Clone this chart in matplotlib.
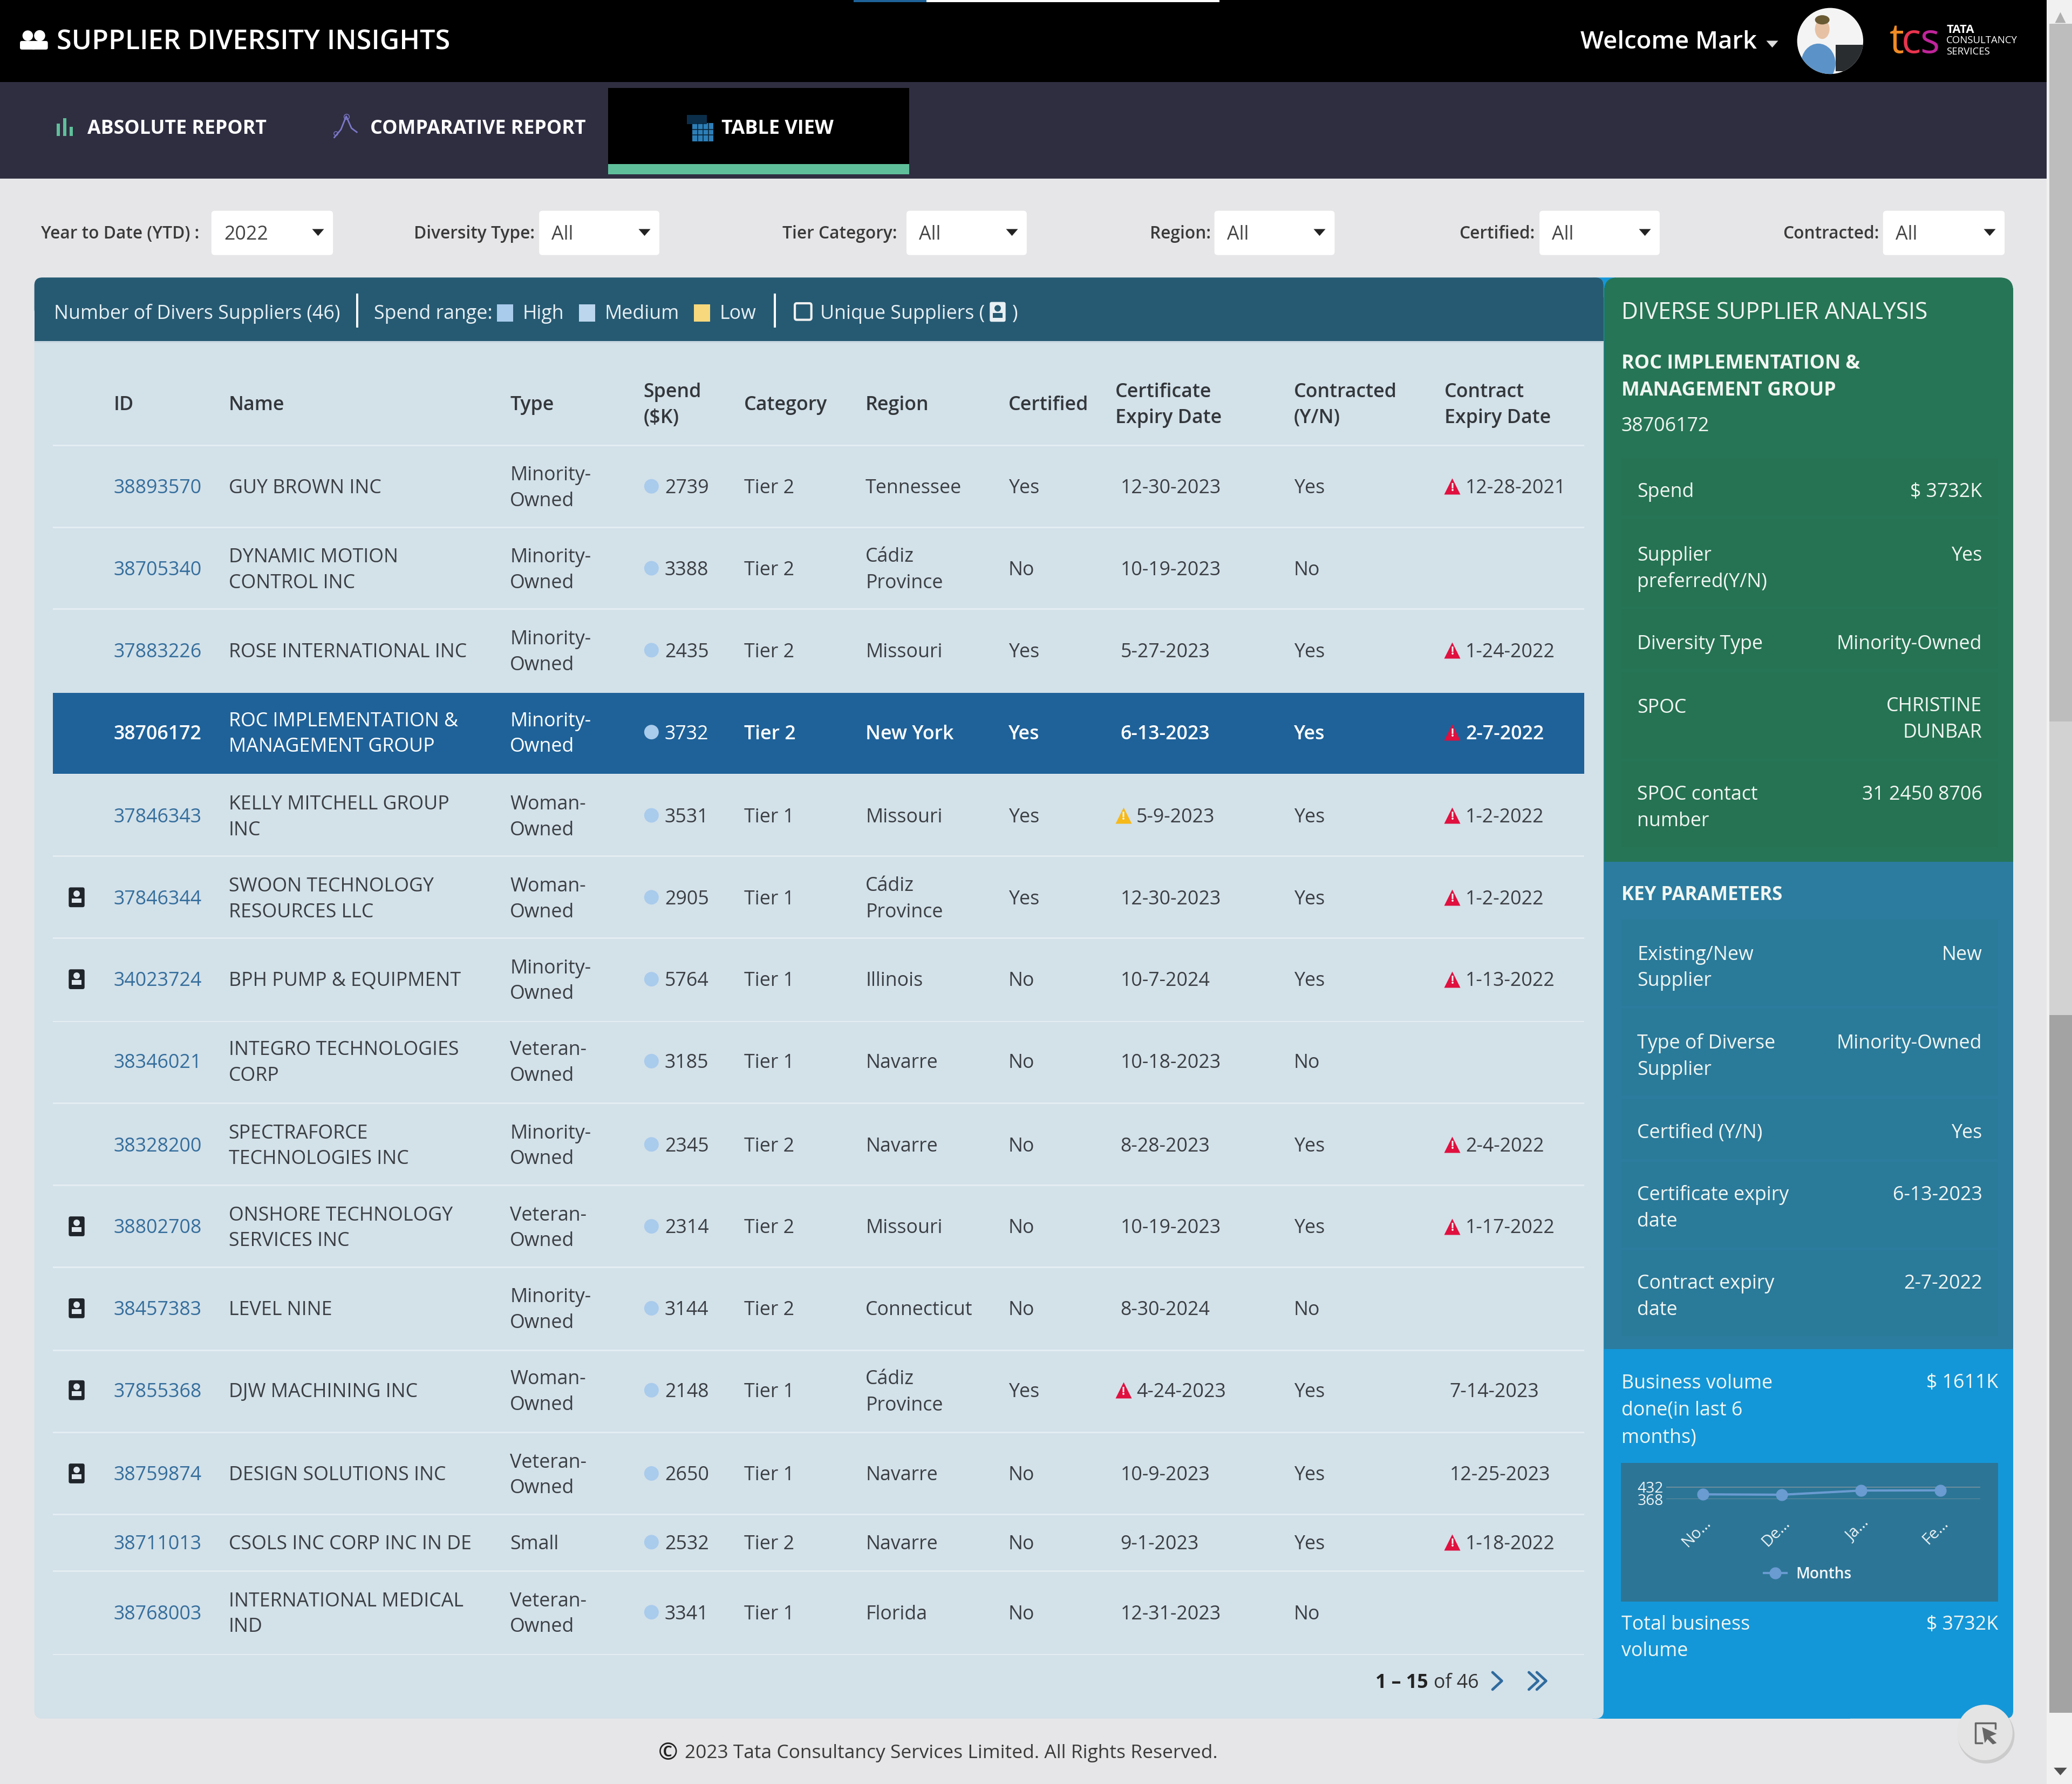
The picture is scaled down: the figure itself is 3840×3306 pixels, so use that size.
import matplotlib
matplotlib.use('Agg')
import matplotlib.pyplot as plt
from matplotlib.patches import Rectangle, FancyBboxPatch, Circle, Polygon, Ellipse

plt.rcParams['font.family'] = ['Open Sans', 'DejaVu Sans']

# table data
ids = ['38893570', '38705340', '37883226', '38706172', '37846343', '37846344', '34023724', '38346021',
       '38328200', '38802708', '38457383', '37855368', '38759874', '38711013', '38768003']
names = ['GUY BROWN INC', 'DYNAMIC MOTION\nCONTROL INC', 'ROSE INTERNATIONAL INC',
         'ROC IMPLEMENTATION &\nMANAGEMENT GROUP', 'KELLY MITCHELL GROUP\nINC', 'SWOON TECHNOLOGY\nRESOURCES LLC',
         'BPH PUMP & EQUIPMENT', 'INTEGRO TECHNOLOGIES\nCORP', 'SPECTRAFORCE\nTECHNOLOGIES INC',
         'ONSHORE TECHNOLOGY\nSERVICES INC', 'LEVEL NINE', 'DJW MACHINING INC', 'DESIGN SOLUTIONS INC',
         'CSOLS INC CORP INC IN DE', 'INTERNATIONAL MEDICAL\nIND']
types = ['Minority-\nOwned', 'Minority-\nOwned', 'Minority-\nOwned', 'Minority-\nOwned', 'Woman-\nOwned',
         'Woman-\nOwned', 'Minority-\nOwned', 'Veteran-\nOwned', 'Minority-\nOwned', 'Veteran-\nOwned',
         'Minority-\nOwned', 'Woman-\nOwned', 'Veteran-\nOwned', 'Small', 'Veteran-\nOwned']
spend = [2739, 3388, 2435, 3732, 3531, 2905, 5764, 3185, 2345, 2314, 3144, 2148, 2650, 2532, 3341]
tiers = ['Tier 2', 'Tier 2', 'Tier 2', 'Tier 2', 'Tier 1', 'Tier 1', 'Tier 1', 'Tier 1',
         'Tier 2', 'Tier 2', 'Tier 2', 'Tier 1', 'Tier 1', 'Tier 2', 'Tier 1']
regions = ['Tennessee', 'Cádiz\nProvince', 'Missouri', 'New York', 'Missouri', 'Cádiz\nProvince', 'Illinois',
           'Navarre', 'Navarre', 'Missouri', 'Connecticut', 'Cádiz\nProvince', 'Navarre', 'Navarre', 'Florida']
certified = ['Yes', 'No', 'Yes', 'Yes', 'Yes', 'Yes', 'No', 'No', 'No', 'No', 'No', 'Yes', 'No', 'No', 'No']
cert_expiry = ['12-30-2023', '10-19-2023', '5-27-2023', '6-13-2023', '5-9-2023', '12-30-2023', '10-7-2024',
               '10-18-2023', '8-28-2023', '10-19-2023', '8-30-2024', '4-24-2023', '10-9-2023', '9-1-2023',
               '12-31-2023']
cert_flag = ['', '', '', '', 'amber', '', '', '', '', '', '', 'red', '', '', '']
contracted = ['Yes', 'No', 'Yes', 'Yes', 'Yes', 'Yes', 'Yes', 'No', 'Yes', 'Yes', 'No', 'Yes', 'Yes', 'Yes', 'No']
contract_expiry = ['12-28-2021', '', '1-24-2022', '2-7-2022', '1-2-2022', '1-2-2022', '1-13-2022', '',
                   '2-4-2022', '1-17-2022', '', '7-14-2023', '12-25-2023', '1-18-2022', '']
contract_flag = [1, 0, 1, 1, 1, 1, 1, 0, 1, 1, 0, 0, 0, 1, 0]
unique = [0, 0, 0, 0, 0, 1, 1, 0, 0, 1, 1, 1, 1, 0, 0]
selected = 3

filter_labels = ['Year to Date (YTD) :', 'Diversity Type:', 'Tier Category:', 'Region:', 'Certified:', 'Contracted:']
filter_values = ['2022', 'All', 'All', 'All', 'All', 'All']

# small chart
months = ['No…', 'De…', 'Ja…', 'Fe…']
month_values = [393, 391, 413, 414]

W, H = 1568, 1350  # layout units, the image scaled to a 1568 wide page
SCALE = 3840 / W
CARET = [(-1, 0.55), (1, 0.55), (0, -0.6)]


def fs(px):
    return px * SCALE * 0.72


fig = plt.figure(figsize=(38.4, 33.06), dpi=100, facecolor='#e6e6e8')
ax = fig.add_axes([0, 0, 1, 1])
ax.set_xlim(0, W)
ax.set_ylim(H, 0)
ax.axis('off')

DARK = '#3b3f44'


def rect(x0, y0, x1, y1, color, z=1, **kw):
    ax.add_patch(Rectangle((x0, y0), x1 - x0, y1 - y0, fc=color, ec='none', zorder=z, **kw))


def rrect(x0, y0, x1, y1, color, r=4, z=1, **kw):
    ax.add_patch(FancyBboxPatch((x0 + r, y0 + r), x1 - x0 - 2 * r, y1 - y0 - 2 * r,
                                boxstyle=f'round,pad={r},rounding_size={r}', fc=color, ec='none', zorder=z, **kw))


def txt(x, y, s, px=14.6, color=DARK, weight='normal', ha='left', pitch=20, z=5):
    # y is the centre of the line, multi line text is centred on it
    lines = s.split('\n')
    start = y - pitch * (len(lines) - 1) / 2
    for i, line in enumerate(lines):
        ax.text(x, start + i * pitch + px * 0.36, line, fontsize=fs(px), color=color, weight=weight,
                ha=ha, va='baseline', zorder=z)


def person(cx, cy, size, color, z=6):
    ax.add_patch(Circle((cx, cy - size * 0.3), size * 0.27, fc=color, ec='none', zorder=z))
    ax.add_patch(Rectangle((cx - size * 0.42, cy + size * 0.08), size * 0.84, size * 0.4, fc=color, ec='none', zorder=z))


def unique_icon(cx, cy, bg='#20252b', fg='#dde6ec'):
    rrect(cx - 6, cy - 7.5, cx + 6, cy + 7.5, bg, r=1.5, z=5)
    person(cx, cy, 9, fg)


def warn(cx, cy, color):
    ax.plot([cx], [cy], marker='^', ms=fs(12.5), color=color, mec='none', zorder=5)
    ax.text(cx, cy + 1.2, '!', fontsize=fs(8.5), color='#f4f4f4', weight='bold', ha='center', va='center', zorder=6)


# scrollbar
rect(1549, 0, W, H, '#f1f1f1', z=0)
rect(1551, 18, W, 546, '#bdbdbd')
rect(1551, 546, W, 768, '#d2d2d2')
rect(1551, 768, W, 1296, '#a3a3a3')
ax.plot([1559], [13], marker='^', ms=fs(8), color='#b0b0b0', mec='none')
ax.plot([1559], [1340], marker=CARET, ms=fs(10), color='#505050', mec='none')

# top bars
rect(0, 0, 1549, 62, '#000000')
rect(0, 62, 1549, 135, '#2f2e41')
rect(646, 0, 701, 1.5, '#1f6299', z=2)
rect(701, 0, 923, 1.5, '#ffffff', z=2)

# people icon and title
for cx, size in [(21, 9.5), (30, 10)]:
    ax.add_patch(Circle((cx, 27), size * 0.42, fc='white', ec='none', zorder=3))
    rrect(cx - size * 0.62, 31, cx + size * 0.62, 37.5, 'white', r=1.5, z=3)
txt(43, 30, 'SUPPLIER DIVERSITY INSIGHTS', px=20.5, color='white', weight='semibold')

txt(1196, 30, 'Welcome Mark', px=18.6, color='white', weight='semibold')
ax.plot([1341], [33], marker=CARET, ms=fs(9), color='#dddddd', mec='none', zorder=4)

# avatar
badge = Circle((1385, 31), 25, fc='#f4f4f4', ec='none', zorder=3)
ax.add_patch(badge)
for part in [Ellipse((1376, 48), 26, 30, fc='#5b93c8', ec='none', zorder=4),
             Ellipse((1379, 22), 11, 15, fc='#e7c1a4', ec='none', zorder=4),
             Ellipse((1379, 15), 11, 7, fc='#6a5a34', ec='none', zorder=4),
             Rectangle((1389, 34), 21, 20, fc='#2a2d30', ec='none', zorder=4)]:
    ax.add_patch(part)
    part.set_clip_path(badge)

# tcs logo
for x, s, c in [(1430, 't', '#f08a24'), (1439, 'c', '#e8344e'), (1453, 's', '#c0249a')]:
    txt(x, 29, s, px=31, color=c)
txt(1473, 21.5, 'TATA', px=9, color='white', weight='bold')
txt(1473, 29.8, 'CONSULTANCY', px=7.6, color='white')
txt(1473, 38.5, 'SERVICES', px=7.6, color='white')

# nav
for i, h in enumerate([9.5, 13.5, 7]):
    rect(43 + i * 4.8, 103 - h, 45.5 + i * 4.8, 103, '#5fbf9a', z=3)
ax.plot([253, 258, 262, 266, 270], [104, 98, 88, 97, 100], color='#7c78c9', lw=2, zorder=3)
ax.plot([262], [88], marker='o', ms=fs(4), mfc='none', mec='#7c78c9', zorder=3)
ax.plot([254], [101], marker='o', ms=fs(3), mfc='none', mec='#7c78c9', zorder=3)
txt(66, 96, 'ABSOLUTE REPORT', px=14.55, color='white', weight='bold')
txt(280, 96, 'COMPARATIVE REPORT', px=14.6, color='white', weight='bold')

rect(460, 66.5, 688, 124, '#000000', z=2)
rect(460, 124, 688, 132, '#5fbf9a', z=2)
rect(524, 93, 540, 107, '#2d7fb8', z=3)
rect(520, 87, 535, 94, '#0b2f4a', z=3)
for gx in [528, 532, 536]:
    ax.plot([gx, gx], [93, 107], color='#0a2438', lw=1.2, zorder=4)
for gy in [98, 102]:
    ax.plot([524, 540], [gy, gy], color='#0a2438', lw=1.2, zorder=4)
txt(546, 96, 'TABLE VIEW', px=14.7, color='white', weight='bold')

# filters
label_x = [31, 313, 592, 870, 1104, 1349]
box_x = [(160, 252), (408, 499), (686, 777), (919, 1010), (1165, 1256), (1425, 1517)]
for lab, val, lx, (b0, b1) in zip(filter_labels, filter_values, label_x, box_x):
    txt(lx, 176, lab, px=12.9, color='#3a3a3a', weight='semibold')
    rrect(b0, 159.5, b1, 193, 'white', r=2.5, z=2)
    txt(b0 + 9.5, 176, val, px=14.6, color='#444444')
    ax.plot([b1 - 11.5], [175.5], marker=CARET, ms=fs(9), color='#222222', mec='none', zorder=4)

# panels, the blue one sits behind the corners of the table
rrect(1204, 210, 1224, 1300.5, '#1497d8', r=2, z=1)
rrect(26, 210, 1213.5, 1300.5, '#d3e1e9', r=6, z=2)
rrect(26, 210, 1213.5, 240, '#265a73', r=6, z=3)
rect(26, 225, 1213.5, 258, '#265a73', z=3)
rect(26, 258, 1213.5, 259.5, '#c6d6df', z=3)

rrect(1214, 210, 1523.5, 300, '#267556', r=10, z=2)
rect(1214, 218, 1523.5, 652, '#267556', z=2)
rect(1214, 652, 1523.5, 1021, '#2b7c9e', z=2)
rect(1214, 1021, 1523.5, 1290, '#1497d8', z=2)
rrect(1300, 1270, 1523.5, 1300.5, '#1497d8', r=6, z=2)
rect(1214, 1270, 1400, 1300.5, '#1497d8', z=2)

# table head strip
txt(41, 236, 'Number of Divers Suppliers (46)', px=14.6, color='#e8f0f4')
rect(269.5, 222, 271, 248, '#ffffff', z=4)
txt(283, 236, 'Spend range:', px=14.6, color='#e8f0f4')
for x, c, lab in [(376, '#a9cbec', 'High'), (438, '#bcd6ee', 'Medium'), (525, '#f7d87c', 'Low')]:
    rect(x, 230.5, x + 12.5, 243.5, c, z=4)
    txt(x + 19.5, 236, lab, px=14.6, color='#e8f0f4')
rect(585.5, 222, 587, 248, '#ffffff', z=4)
ax.add_patch(FancyBboxPatch((601.5, 229.5), 12.5, 12.5, boxstyle='round,pad=0,rounding_size=1.5',
                            fc='none', ec='#f0f0f0', lw=3, zorder=4))
txt(620.5, 236, 'Unique Suppliers (', px=14.6, color='#e8f0f4')
unique_icon(755, 236, bg='#e8f0f4', fg='#265a73')
txt(766, 236, ')', px=14.6, color='#e8f0f4')

# column headers
col_heads = [(86, 'ID'), (173, 'Name'), (386, 'Type'), (487, 'Spend\n($K)'), (563, 'Category'), (655, 'Region'),
             (763, 'Certified'), (844, 'Certificate\nExpiry Date'), (979, 'Contracted\n(Y/N)'),
             (1093, 'Contract\nExpiry Date')]
for x, s in col_heads:
    txt(x, 305, s, px=14.6, color='#33373b', weight='semibold', pitch=19.5)

# rows
row_y = [368, 430, 492, 554, 617, 679, 741, 803, 866, 928, 990, 1052, 1115, 1167, 1220]
row_lines = [337, 399, 461, 585.5, 648, 710, 773, 835, 897, 959, 1022, 1084, 1146, 1189, 1252]
for yl in row_lines:
    rect(40, yl - 0.6, 1199, yl + 0.6, '#e4edf2', z=3)
rect(40, 524.5, 1199, 585.5, '#1f6299', z=3)

for i, y in enumerate(row_y):
    sel = i == selected
    c = 'white' if sel else DARK
    w = 'semibold' if sel else 'normal'
    if unique[i]:
        unique_icon(58, y)
    txt(86, y, ids[i], color='white' if sel else '#356e9c', weight=w)
    txt(173, y, names[i], color=c, pitch=19.5)
    txt(386, y, types[i], color=c, pitch=19.5)
    ax.scatter([493], [y], s=fs(11) ** 2, color='#a9cbec', edgecolors='none', zorder=5)
    txt(503, y, str(spend[i]), color=c)
    txt(563, y, tiers[i], color=c, weight=w)
    txt(655, y, regions[i], color=c, weight=w, pitch=20)
    txt(763, y, certified[i], color=c, weight=w)
    if cert_flag[i]:
        warn(850, y, '#f6b91a' if cert_flag[i] == 'amber' else '#e0103f')
        txt(860, y, cert_expiry[i], color=c, weight=w)
    else:
        txt(848, y, cert_expiry[i], color=c, weight=w)
    txt(979, y, contracted[i], color=c, weight=w)
    if contract_flag[i]:
        warn(1099, y, '#e0103f')
        txt(1109, y, contract_expiry[i], color=c, weight=w)
    elif contract_expiry[i]:
        txt(1097, y, contract_expiry[i], color=c, weight=w)

# pager
txt(1041, 1272, '1 – 15', color='#222222', weight='bold')
txt(1085, 1272, 'of 46', color='#333333')
chev = dict(color='#2f6b9e', lw=3.5, zorder=5, solid_capstyle='round')
ax.plot([1129.5, 1136.5, 1129.5], [1265.5, 1272, 1278.5], **chev)
ax.plot([1157, 1164, 1157], [1265.5, 1272, 1278.5], **chev)
ax.plot([1163, 1170, 1163], [1265.5, 1272, 1278.5], **chev)

# right panel
WHITE = '#f2f6f2'
txt(1227, 235, 'DIVERSE SUPPLIER ANALYSIS', px=17.4, color=WHITE)
txt(1227, 284, 'ROC IMPLEMENTATION &\nMANAGEMENT GROUP', px=14.6, color=WHITE, weight='bold', pitch=20.5)
txt(1227, 321, '38706172', px=14.6, color=WHITE)

green_cards = [(347, 390), (393, 459), (461, 506), (509, 574), (576, 641)]
teal_cards = [(696, 761), (763, 829), (832, 877), (879, 944), (946, 1011)]
for y0, y1 in green_cards:
    rect(1227, y0, 1512, y1, '#257353', z=3)
for y0, y1 in teal_cards:
    rect(1227, y0, 1512, y1, '#2a7a9a', z=3)

card_text = [(371, 'Spend', '$ 3732K'), (429, 'Supplier\npreferred(Y/N)', 'Yes'),
             (486, 'Diversity Type', 'Minority-Owned'), (543, 'SPOC', 'CHRISTINE\nDUNBAR'),
             (610, 'SPOC contact\nnumber', '31 2450 8706'),
             (731, 'Existing/New\nSupplier', 'New'), (798, 'Type of Diverse\nSupplier', 'Minority-Owned'),
             (856, 'Certified (Y/N)', 'Yes'), (913, 'Certificate expiry\ndate', '6-13-2023'),
             (980, 'Contract expiry\ndate', '2-7-2022')]
for y, lab, val in card_text:
    if lab == 'SPOC':
        txt(1239, 534, lab, color=WHITE)
        txt(1500, y, val, color=WHITE, ha='right')
    else:
        txt(1239, y, lab, color=WHITE)
        n = lab.count('\n')
        txt(1500, y - 10 * n, val, color=WHITE, ha='right')

txt(1227, 676, 'KEY PARAMETERS', px=14.2, color=WHITE, weight='bold')
txt(1227, 1066, 'Business volume\ndone(in last 6\nmonths)', color=WHITE, pitch=20.5)
txt(1512, 1045, '$ 1611K', color=WHITE, ha='right')
txt(1227, 1238, 'Total business\nvolume', color=WHITE)
txt(1512, 1228, '$ 3732K', color=WHITE, ha='right')

# business volume chart
rect(1226.5, 1107, 1512, 1212, '#2c7596', z=3)
px0, px1, py0, py1 = 1261, 1498.5, 1125.2, 1134.4
chart = fig.add_axes([px0 / W, 1 - py1 / H, (px1 - px0) / W, (py1 - py0) / H], facecolor='none')
chart.plot(range(len(months)), month_values, color='#6a9bd1', lw=3, marker='o', ms=fs(8.5),
           clip_on=False, label='Months', zorder=5)
chart.set_xlim(-27.5 / 60, 210 / 60)
chart.set_ylim(368, 432)
chart.set_yticks([368, 432])
chart.set_yticklabels(['368', '432'], fontsize=fs(11.5), color='#eef3f5')
chart.set_xticks(range(len(months)))
chart.set_xticklabels(months, rotation=45, ha='right', rotation_mode='anchor', fontsize=fs(12), color='#eef3f5')
chart.tick_params(length=0, axis='y', pad=4)
chart.tick_params(length=0, axis='x', pad=22)
chart.grid(axis='y', color='#6f8f9d', lw=2)
chart.set_axisbelow(True)
for sp in chart.spines.values():
    sp.set_visible(False)
chart.legend(loc='center', bbox_to_anchor=(1368 / W, 1 - 1191.5 / H), bbox_transform=fig.transFigure, frameon=False,
             prop={'size': fs(11.5), 'weight': 'semibold'}, labelcolor='#f2f6f8', handlelength=1.5, handletextpad=0.6)

# footer
txt(498, 1325, '©', px=18, color='#222222', weight='semibold')
txt(518, 1325, '2023 Tata Consultancy Services Limited. All Rights Reserved.', px=14.45, color='#3a3a3a')

# floating button
ax.add_patch(Circle((1503, 1313), 21.5, fc='#9a9a9a', ec='none', alpha=0.35, zorder=6))
ax.add_patch(Circle((1502, 1311), 21, fc='#e4e4e4', ec='none', zorder=7))
ax.plot([1500, 1495, 1495, 1510, 1510], [1319, 1319, 1304, 1304, 1308], color='#666666', lw=2.5, zorder=8)
ax.add_patch(Polygon([(1500, 1307), (1511, 1312), (1506, 1314), (1511, 1319), (1508, 1320), (1504, 1316), (1502, 1319)],
                     fc='#666666', ec='none', zorder=8))

fig.savefig('out.png', dpi=100, facecolor=fig.get_facecolor())
